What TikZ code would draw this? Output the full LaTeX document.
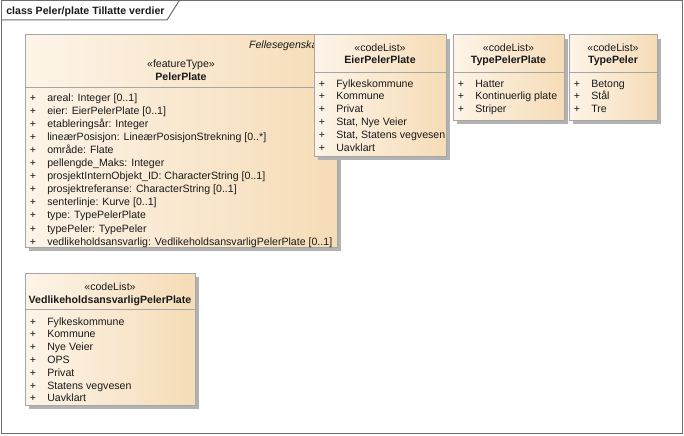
\documentclass[tikz,border=0pt]{standalone}
\usepackage{fontspec}
\setmainfont{Liberation Sans}
\usetikzlibrary{fit}
\definecolor{framec}{HTML}{6E6E6E}
\definecolor{boxc}{HTML}{A6A6A6}
\definecolor{shadowc}{HTML}{B2B2B2}
\definecolor{fillL}{HTML}{FDF4E8}
\definecolor{fillR}{HTML}{F6DCB7}
\definecolor{txtc}{HTML}{1A1A1A}
\newcommand\fsz{\fontsize{7.95}{10}\selectfont}
\tikzset{
  umlbox/.style={draw=boxc, line width=0.75pt, left color=fillL, right color=fillR, inner sep=0pt},
  txt/.style={inner sep=0pt, text=txtc},
  divider/.style={draw=boxc, line width=0.75pt},
  shadow/.style={fill=shadowc}
}
% #1 name, #2 x-left, #3 first y, #4 spacing, #5 list
\newcommand\umlitems[5]{%
  \foreach \t [count=\i from 0] in {#5} {%
    \node[txt, anchor=base] (#1-p\i) at (#2+8, #3+\i*#4+4) {+};
    \node[txt, anchor=base west] (#1-t\i) at (#2+22, #3+\i*#4+4) {\t};
  }%
}
\begin{document}
\begin{tikzpicture}[x=0.75pt,y=-0.75pt, font=\fsz]
\useasboundingbox (0,0) rectangle (684,435);
\fill[white] (0,0) rectangle (684,435);
% frame
\node[draw=framec, line width=0.75pt, inner sep=0pt, fit={(1,1) (682,433)}] (frame) {};
\coordinate (tabA) at (1,20);
\coordinate (tabB) at (167,20);
\coordinate (tabC) at (179,1);
\draw[framec, line width=0.75pt] (tabA) -- (tabB) -- (tabC);
\node[txt, anchor=base west, font=\fsz\bfseries] (title) at (6,15) {class Peler/plate Tillatte verdier};

% PelerPlate
\fill[shadow] (29,39) rectangle (341,251);
\node[umlbox, fit={(25,35) (337,247)}] (pp) {};
\begin{scope}
\clip (25,35) rectangle (314,60);
\node[txt, anchor=base east, font=\fsz\itshape] (ppfelles) at (333,49) {Fellesegenskaper};
\end{scope}
\node[txt, anchor=base] (ppst) at (181,67) {«featureType»};
\node[txt, anchor=base, font=\fsz\bfseries] (ppname) at (181,80) {PelerPlate};
\draw[divider] (pp.west |- 0,87) -- (pp.east |- 0,87);
\umlitems{pp}{25}{97}{13.1}{areal: Integer [0..1],eier: EierPelerPlate [0..1],etableringsår: Integer,lineærPosisjon: LineærPosisjonStrekning [0..*],område: Flate,pellengde\_Maks: Integer,prosjektInternObjekt\_ID: CharacterString [0..1],prosjektreferanse: CharacterString [0..1],senterlinje: Kurve [0..1],type: TypePelerPlate,typePeler: TypePeler,vedlikeholdsansvarlig: VedlikeholdsansvarligPelerPlate [0..1]}

% EierPelerPlate
\fill[shadow] (318,39) rectangle (450,160);
\node[umlbox, fit={(314,35) (446,156)}] (eier) {};
\node[txt, anchor=base] (eierst) at (380,51) {«codeList»};
\node[txt, anchor=base, font=\fsz\bfseries] (eiername) at (380,64) {EierPelerPlate};
\draw[divider] (eier.west |- 0,72) -- (eier.east |- 0,72);
\umlitems{eier}{314}{83}{12.8}{Fylkeskommune,Kommune,Privat,{Stat, Nye Veier},{Stat, Statens vegvesen},Uavklart}

% TypePelerPlate
\fill[shadow] (457,39) rectangle (568,124);
\node[umlbox, fit={(453,35) (564,120)}] (tpp) {};
\node[txt, anchor=base] (tppst) at (508.5,51) {«codeList»};
\node[txt, anchor=base, font=\fsz\bfseries] (tppname) at (508.5,64) {TypePelerPlate};
\draw[divider] (tpp.west |- 0,72) -- (tpp.east |- 0,72);
\umlitems{tpp}{453}{83}{12.8}{Hatter,Kontinuerlig plate,Striper}

% TypePeler
\fill[shadow] (573,39) rectangle (661,124);
\node[umlbox, fit={(569,35) (657,120)}] (tp) {};
\node[txt, anchor=base] (tpst) at (613,51) {«codeList»};
\node[txt, anchor=base, font=\fsz\bfseries] (tpname) at (613,64) {TypePeler};
\draw[divider] (tp.west |- 0,72) -- (tp.east |- 0,72);
\umlitems{tp}{569}{83}{12.8}{Betong,Stål,Tre}

% VedlikeholdsansvarligPelerPlate
\fill[shadow] (29,277) rectangle (199,409);
\node[umlbox, fit={(25,273) (195,405)}] (vap) {};
\node[txt, anchor=base] (vapst) at (110,290) {«codeList»};
\node[txt, anchor=base, font=\fsz\bfseries] (vapname) at (110,303) {VedlikeholdsansvarligPelerPlate};
\draw[divider] (vap.west |- 0,309) -- (vap.east |- 0,309);
\umlitems{vap}{25}{321}{12.8}{Fylkeskommune,Kommune,Nye Veier,OPS,Privat,Statens vegvesen,Uavklart}
\end{tikzpicture}
\end{document}
